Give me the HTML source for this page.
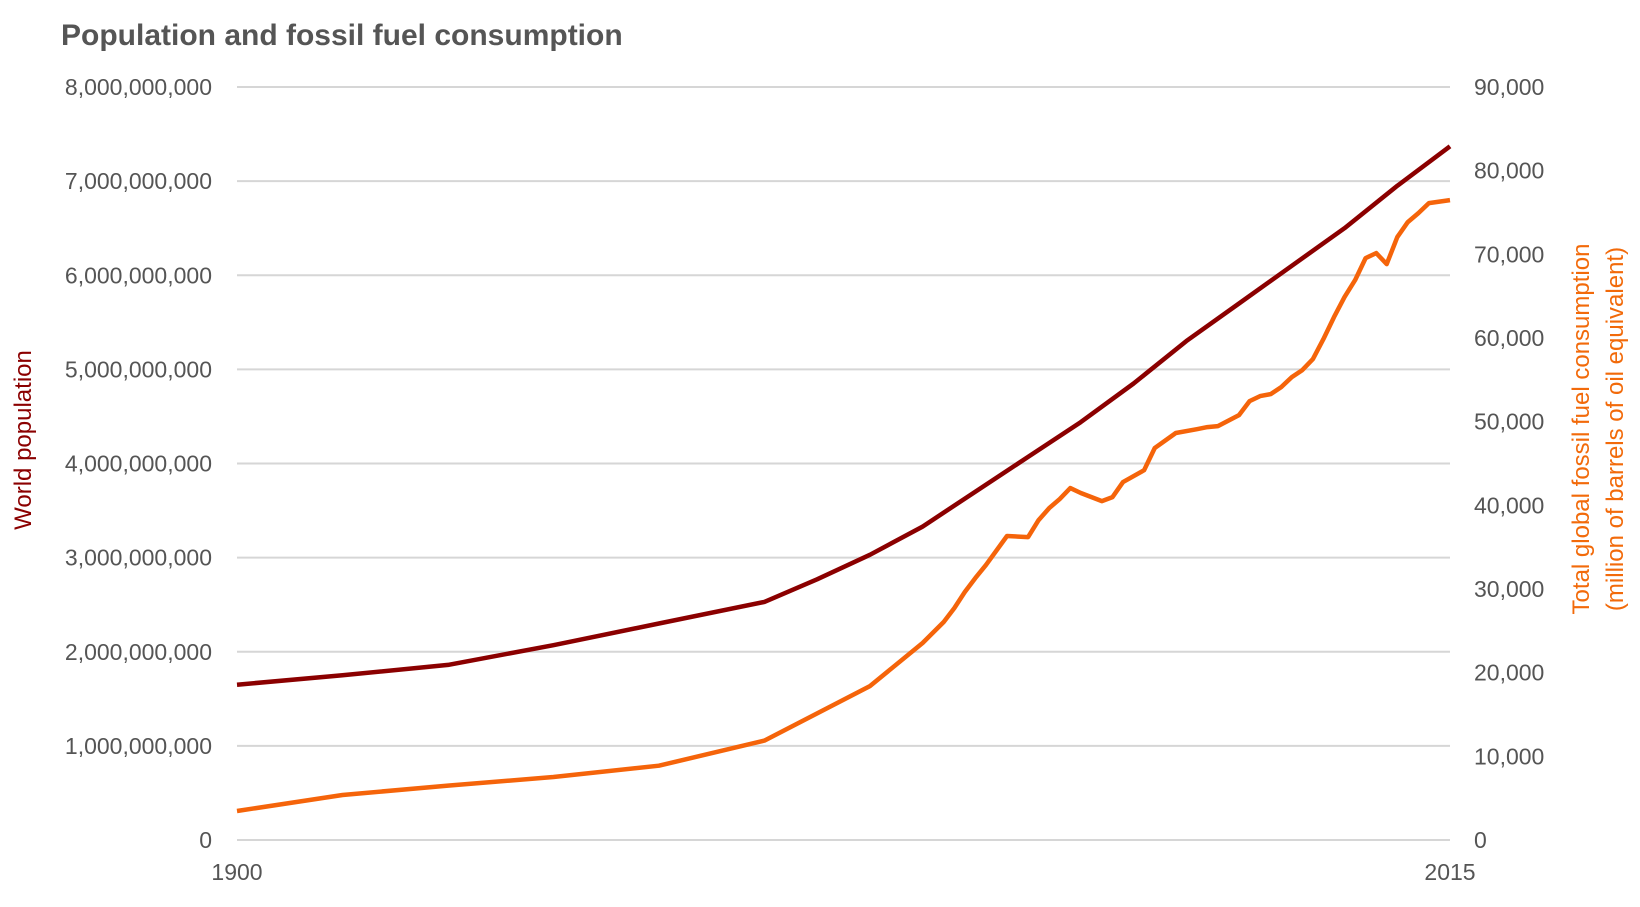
<!DOCTYPE html>
<html><head><meta charset="utf-8"><style>
body{margin:0;background:#fff;}
svg text{font-family:"Liberation Sans",sans-serif;}
</style></head><body>
<svg id="chart" width="1640" height="902" xmlns="http://www.w3.org/2000/svg">
<text x="61" y="45" font-size="30" font-weight="bold" fill="#555">Population and fossil fuel consumption</text>
<g id="grid"></g>
<g id="ylabels"></g>
<g id="y2labels"></g>
<g id="xlabels"></g>
<text transform="translate(31,440) rotate(-90)" text-anchor="middle" font-size="24" fill="#8b0000">World population</text>
<g transform="translate(1589,429) rotate(-90)">
<text x="0" y="0" text-anchor="middle" font-size="24" fill="#f26a0a">Total global fossil fuel consumption</text>
<text x="0" y="34" text-anchor="middle" font-size="24" fill="#f26a0a">(million of barrels of oil equivalent)</text>
</g>
<path id="pop" fill="none" stroke="#8b0000" stroke-width="4.5" stroke-linejoin="round"/>
<path id="fuel" fill="none" stroke="#f5640a" stroke-width="4.5" stroke-linejoin="round"/>
</svg>
<script>
const popYears=[1900,1910,1920,1930,1940,1950,1955,1960,1965,1970,1975,1980,1985,1990,1995,2000,2005,2010,2015];
const popValues=[1.65e9,1.75e9,1.86e9,2.07e9,2.3e9,2.53e9,2.77e9,3.03e9,3.33e9,3.7e9,4.07e9,4.44e9,4.85e9,5.3e9,5.7e9,6.1e9,6.5e9,6.95e9,7.37e9];
const fuelYears=[1900,1910,1920,1930,1940,1950,1960,1965,1967,1968,1969,1970,1971,1973,1975,1976,1977,1978,1979,1980,1982,1983,1984,1986,1987,1989,1991,1992,1993,1995,1996,1997,1998,1999,2000,2001,2002,2003,2004,2005,2006,2007,2008,2009,2010,2011,2012,2013,2015];
const fuelValues=[3465,5380,6500,7530,8880,11880,18400,23540,26050,27720,29640,31300,32860,36330,36200,38240,39670,40750,42060,41470,40500,40990,42780,44200,46840,48640,49100,49350,49470,50790,52460,53060,53300,54130,55330,56165,57480,59870,62500,64890,66920,69550,70150,68830,72060,73850,74930,76120,76480];
const leftTicks=["0","1,000,000,000","2,000,000,000","3,000,000,000","4,000,000,000","5,000,000,000","6,000,000,000","7,000,000,000","8,000,000,000"];
const rightTicks=["0","10,000","20,000","30,000","40,000","50,000","60,000","70,000","80,000","90,000"];
const xTicks=[1900,2015];
const X0=237,X1=1450,Y0=840,Y1=87;
const x=yr=>X0+(yr-1900)/115*(X1-X0);
const yL=v=>Y0-v/8e9*(Y0-Y1);
const yR=v=>Y0-v/90000*(Y0-Y1);
const NS="http://www.w3.org/2000/svg";
function mk(tag,attrs,parent,txt){const e=document.createElementNS(NS,tag);for(const k in attrs)e.setAttribute(k,attrs[k]);if(txt!==undefined)e.textContent=txt;parent.appendChild(e);return e;}
const grid=document.getElementById('grid'),yl=document.getElementById('ylabels'),yr2=document.getElementById('y2labels'),xl=document.getElementById('xlabels');
leftTicks.forEach((t,i)=>{const y=yL(i*1e9);
const g=mk('line',{x1:X0,x2:X1,y1:y,y2:y,stroke:'#d6d6d6','stroke-width':2},grid);


const l=mk('text',{x:212,y:y+8,'text-anchor':'end','font-size':23,fill:'#555'},yl,t);

});
rightTicks.forEach((t,i)=>{const y=yR(i*10000);
const l=mk('text',{x:1474,y:y+8,'text-anchor':'start','font-size':23,fill:'#555'},yr2,t);

});
xTicks.forEach(t=>{const l=mk('text',{x:x(t),y:880,'text-anchor':'middle','font-size':23,fill:'#555'},xl,t);

});
document.getElementById('pop').setAttribute('d',popYears.map((yr,i)=>(i?'L':'M')+x(yr).toFixed(1)+' '+yL(popValues[i]).toFixed(1)).join(' '));
document.getElementById('fuel').setAttribute('d',fuelYears.map((yr,i)=>(i?'L':'M')+x(yr).toFixed(1)+' '+yR(fuelValues[i]).toFixed(1)).join(' '));
</script>
</body></html>
